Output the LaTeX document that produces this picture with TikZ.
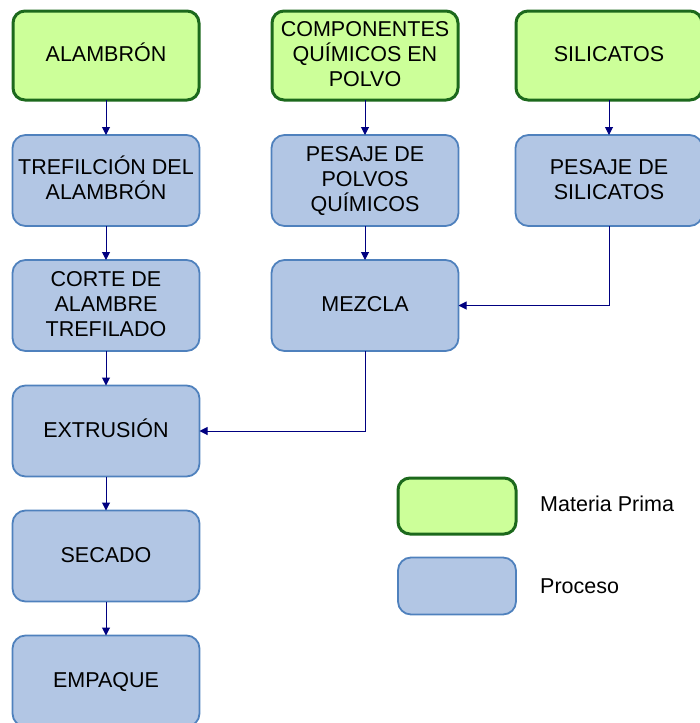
\documentclass[tikz,border=0pt]{standalone}
\usepackage{fontspec}
\setmainfont{Liberation Sans}
\usetikzlibrary{arrows.meta}
\definecolor{mpfill}{RGB}{204,255,153}
\definecolor{mpdraw}{RGB}{28,105,28}
\definecolor{prfill}{RGB}{178,198,228}
\definecolor{prdraw}{RGB}{79,129,189}
\definecolor{arr}{RGB}{0,0,128}
\tikzset{
  mpbox/.style={draw=mpdraw, fill=mpfill, line width=3pt, rounded corners=12pt,
    minimum width=186pt, minimum height=89pt, align=center, inner sep=2pt, outer sep=0pt,
    font=\fontsize{21.5}{25}\selectfont},
  prbox/.style={draw=prdraw, fill=prfill, line width=1.8pt, rounded corners=13pt,
    minimum width=187pt, minimum height=91pt, align=center, inner sep=2pt, outer sep=0pt,
    font=\fontsize{21.5}{25}\selectfont},
  one/.style={text height=16pt, text depth=4pt},
  two/.style={text height=41pt, text depth=4pt},
  three/.style={text height=66pt, text depth=4pt},
  legtext/.style={anchor=west, inner sep=0pt, font=\fontsize{21.5}{25}\selectfont},
  conn/.style={draw=arr, line width=1pt, -{Triangle[width=8pt,length=8pt]}}
}
\begin{document}
\begin{tikzpicture}[x=1pt,y=-1pt]
\useasboundingbox (0,0) rectangle (700,723);
\node[mpbox, one] (a1) at (106,55.5) {ALAMBRÓN};
\node[mpbox, three] (a2) at (365,55.5) {COMPONENTES\\QUÍMICOS EN\\POLVO};
\node[mpbox, one] (a3) at (609,55.5) {SILICATOS};
\node[prbox, two] (tr) at (106,180.5) {TREFILCIÓN DEL\\ALAMBRÓN};
\node[prbox, three] (pp) at (365,180.5) {PESAJE DE\\POLVOS\\QUÍMICOS};
\node[prbox, two] (ps) at (609,180.5) {PESAJE DE\\SILICATOS};
\node[prbox, three] (co) at (106,305.5) {CORTE DE\\ALAMBRE\\TREFILADO};
\node[prbox, one] (mz) at (365,305.5) {MEZCLA};
\node[prbox, one] (ex) at (106,431) {EXTRUSIÓN};
\node[prbox, one] (se) at (106,556) {SECADO};
\node[prbox, one] (em) at (106,681) {EMPAQUE};
\node[mpbox, minimum width=118pt, minimum height=56pt] (lg1) at (457,506) {};
\node[prbox, minimum width=118pt, minimum height=57pt] (lg2) at (457,586) {};
\node[legtext, one] (lt1) at (540,505.5) {Materia Prima};
\node[legtext, one] (lt2) at (540,587.5) {Proceso};
\draw[conn] (a1) -- (tr);
\draw[conn] (tr) -- (co);
\draw[conn] (co) -- (ex);
\draw[conn] (ex) -- (se);
\draw[conn] (se) -- (em);
\draw[conn] (a2) -- (pp);
\draw[conn] (pp) -- (mz);
\draw[conn] (a3) -- (ps);
\draw[conn] (ps.south) |- (mz.east);
\draw[conn] (mz.south) |- (ex.east);
\end{tikzpicture}
\end{document}
